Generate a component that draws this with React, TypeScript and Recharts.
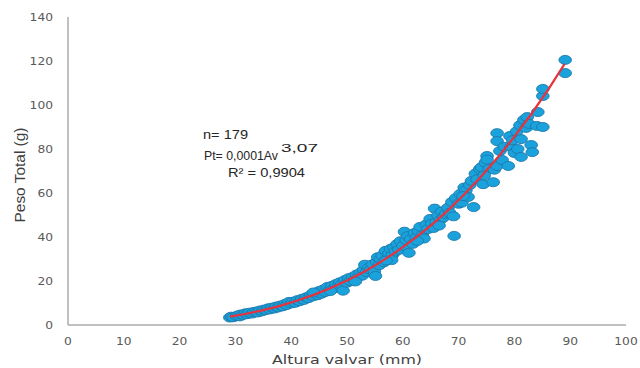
import React from 'react';
import { ScatterChart, Scatter, XAxis, YAxis } from 'recharts';

// Altura valvar (mm)
const alturaValvar = [
  29.0, 29.3, 29.6, 30.2, 30.5, 30.8, 31.0, 31.4, 31.8, 32.1, 32.5,
  33.0, 33.3, 33.7, 34.0, 34.4, 34.8, 35.1, 35.5, 35.9, 36.2, 36.6, 37.0, 37.3, 37.7,
  38.1, 38.5, 38.9, 39.2, 39.6, 40.0, 40.3, 40.7, 41.1, 41.5, 41.9, 42.3, 42.7,
  43.1, 43.5, 43.9, 44.3, 44.7, 45.0, 45.4, 45.8, 46.1, 46.5,
  46.9, 47.3, 47.6, 48.0, 48.4, 48.7, 49.0, 49.3, 49.6, 50.0, 50.3, 50.6,
  51.0, 51.3, 51.7, 52.0, 52.4, 52.7, 53.0, 53.2, 53.5, 53.9, 54.2, 54.6,
  54.9, 55.1, 55.3, 55.5, 55.8, 56.0, 56.3, 56.6, 56.9, 57.2, 57.5, 57.8,
  58.1, 58.4, 58.7, 59.0, 59.3, 59.6, 60.0, 60.3, 60.6, 60.9, 61.1, 61.4, 61.8,
  62.1, 62.4, 62.8, 63.1, 63.5, 63.8, 64.2, 64.5, 64.9, 65.2, 65.5, 65.7,
  66.0, 66.3, 66.7, 67.0, 67.3, 67.7, 68.1, 68.4, 68.8, 69.1, 69.2, 69.5,
  70.0, 70.3, 70.6, 71.0, 71.3, 71.7, 72.0, 72.3, 72.7, 73.0, 73.3, 73.8,
  74.1, 74.4, 74.8, 75.1, 75.1, 75.5, 76.2, 76.4, 76.9, 76.9, 76.9, 77.4,
  77.8, 78.2, 78.9, 79.2, 79.4, 79.7, 80.0, 80.4, 80.6, 81.0, 81.2, 81.2,
  81.7, 82.1, 82.3, 82.6, 83.0, 83.2, 84.0, 84.2, 85.1, 85.1, 85.1, 89.1, 89.1,
  44.0, 47.0, 51.5, 58.0, 62.6, 66.5, 70.8, 74.6, 57.0,
];

// Peso Total (g)
const pesoTotal = [
  3.4, 3.8, 3.5, 4.0, 4.4, 3.9, 4.8, 4.6, 5.3, 4.9, 5.6,
  5.2, 5.9, 6.1, 5.7, 6.6, 6.2, 7.0, 6.8, 7.6, 7.1, 7.9, 7.5, 8.4, 8.0,
  8.9, 8.5, 9.6, 9.1, 10.5, 9.8, 10.6, 10.1, 11.3, 10.8, 11.9, 11.4, 12.6,
  12.2, 13.6, 13.0, 14.3, 13.5, 15.4, 14.2, 16.2, 15.0, 17.3,
  16.0, 17.8, 16.6, 18.6, 17.5, 19.4, 18.3, 15.6, 20.4, 19.2, 21.3, 20.0,
  21.8, 20.6, 22.9, 21.9, 23.8, 22.4, 25.2, 27.4, 24.0, 26.0, 25.1, 27.6,
  24.3, 22.3, 28.6, 30.8, 27.2, 29.9, 31.6, 28.5, 33.7, 30.1, 32.4, 34.6,
  31.7, 35.3, 33.4, 36.8, 34.2, 38.1, 36.0, 42.4, 38.6, 40.4, 32.8, 39.0, 36.9,
  41.8, 39.7, 42.8, 44.6, 40.8, 39.3, 45.7, 43.6, 48.2, 46.0, 44.1, 52.9,
  46.8, 49.8, 47.7, 51.6, 48.9, 50.5, 53.3, 51.0, 55.9, 49.4, 40.5, 57.7,
  55.1, 59.6, 55.6, 62.5, 61.2, 58.2, 63.6, 65.5, 53.6, 68.8, 66.2, 70.9,
  71.7, 64.0, 73.8, 76.8, 75.2, 71.0, 64.9, 70.6, 87.2, 83.6, 72.3, 79.1,
  75.0, 81.0, 72.3, 85.9, 80.9, 84.0, 78.2, 88.0, 80.0, 90.8, 84.5, 76.4,
  93.2, 89.6, 94.5, 91.4, 81.8, 78.6, 90.5, 96.8, 90.0, 104.1, 107.3, 114.5, 120.5,
  14.8, 15.4, 19.8, 29.5, 38.2, 45.2, 58.6, 68.0, 29.3,
];

// Fitted curve Pt = 0,0001·Av^3,07
const curveX = [29, 32, 35, 38, 41, 44, 47, 50, 53, 56, 59, 62, 65, 68, 71, 74, 77, 80, 83, 86, 89];
const curveY = [3.8, 5.1, 6.75, 8.7, 11.0, 13.7, 16.7, 20.2, 24.1, 28.6, 33.6, 39.1, 45.2, 51.9, 59.3, 67.4, 76.1, 85.6, 95.8, 106.8, 118.7];

const xTicks = [0, 10, 20, 30, 40, 50, 60, 70, 80, 90, 100];
const yTicks = [0, 20, 40, 60, 80, 100, 120, 140];

const points = alturaValvar.map((x, i) => ({ x, y: pesoTotal[i] }));
const curve = curveX.map((x, i) => ({ x, y: curveY[i] }));

const TICK_FONT = '"DejaVu Sans", Verdana, sans-serif';
const TEXT_FONT = '"Liberation Sans", Arial, sans-serif';

const Ellipse = (props: any) => {
  const { cx, cy } = props;
  if (cx == null || cy == null) return null;
  return <ellipse cx={cx} cy={cy} rx={6.3} ry={4.5} fill="#19A2DC" stroke="#1E78AA" strokeWidth={0.9} />;
};

const NoShape = () => null;

const XTick = (props: any) => {
  const { x, y, payload } = props;
  const s = String(payload.value);
  return (
    <text x={x} y={y + 12} textAnchor="middle" fontFamily={TICK_FONT} fontSize={9.6} fill="#595959"
      textLength={s.length * 7.8} lengthAdjust="spacingAndGlyphs">{s}</text>
  );
};

const YTick = (props: any) => {
  const { x, y, payload } = props;
  const s = String(payload.value);
  return (
    <text x={x - 7} y={y + 3.6} textAnchor="end" fontFamily={TICK_FONT} fontSize={9.6} fill="#595959"
      textLength={s.length * 7.8} lengthAdjust="spacingAndGlyphs">{s}</text>
  );
};

export default function App() {
  return (
    <div style={{ position: 'absolute', left: 0, top: 0, width: 640, height: 368, background: '#fff' }}>
      <ScatterChart width={640} height={368} margin={{ top: 17, right: 14, bottom: 0, left: 0 }}>
        <XAxis type="number" dataKey="x" domain={[0, 100]} ticks={xTicks} interval={0}
          axisLine={{ stroke: '#ABABAB', strokeWidth: 1.5 }} tickLine={false} tickMargin={2}
          height={43} tick={<XTick />} />
        <YAxis type="number" dataKey="y" domain={[0, 140]} ticks={yTicks} interval={0}
          axisLine={{ stroke: '#ABABAB', strokeWidth: 1.5 }} tickLine={false} tickMargin={2}
          width={68} tick={<YTick />} />
        <Scatter data={points} shape={<Ellipse />} isAnimationActive={false} />
        <Scatter data={curve} shape={<NoShape />} line={{ stroke: '#E8323C', strokeWidth: 2.2 }}
          lineType="joint" isAnimationActive={false} />
      </ScatterChart>
      <svg width={640} height={368} style={{ position: 'absolute', left: 0, top: 0, pointerEvents: 'none' }}>
        <text x={347} y={364} textAnchor="middle" fontFamily={TICK_FONT} fontSize={12.5} fill="#404040"
          textLength={150} lengthAdjust="spacingAndGlyphs">Altura valvar (mm)</text>
        <text x={25} y={175} textAnchor="middle" fontFamily={TEXT_FONT} fontSize={15} fill="#404040"
          transform="rotate(-90 25 175)" textLength={95} lengthAdjust="spacingAndGlyphs">Peso Total (g)</text>
        <text x={203} y={139} fontFamily={TEXT_FONT} fontSize={13.5} fill="#262626"
          textLength={45} lengthAdjust="spacingAndGlyphs">n= 179</text>
        <text x={204} y={160} fontFamily={TEXT_FONT} fontSize={13.5} fill="#262626"
          textLength={74} lengthAdjust="spacingAndGlyphs">Pt= 0,0001Av</text>
        <text x={281} y={152} fontFamily={TEXT_FONT} fontSize={11.5} fill="#262626"
          textLength={37} lengthAdjust="spacingAndGlyphs">3,07</text>
        <text x={228} y={177} fontFamily={TEXT_FONT} fontSize={13.5} fill="#262626"
          textLength={77} lengthAdjust="spacingAndGlyphs">R² = 0,9904</text>
      </svg>
    </div>
  );
}
